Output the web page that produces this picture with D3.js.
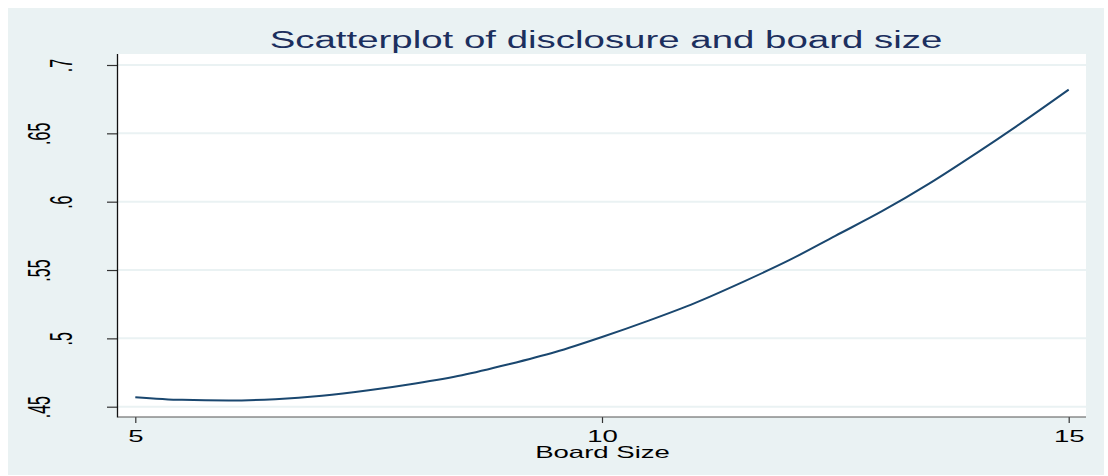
<!DOCTYPE html>
<html>
<head>
<meta charset="utf-8">
<script src="https://cdn.jsdelivr.net/npm/d3@7"></script>
<style>
  html, body { margin: 0; padding: 0; background: #ffffff; }
  svg { display: block; font-family: "Liberation Sans", Arial, sans-serif; }
</style>
</head>
<body>
<svg id="chart" width="1108" height="476"></svg>
<script>
// Fitted disclosure level by board size
const boardSize = [5, 5.5, 6, 6.5, 7, 7.5, 8, 8.5, 9, 9.5, 10, 10.5, 11, 11.5, 12, 12.5, 13, 13.5, 14, 14.5, 15];
const disclosure = [0.457, 0.455, 0.4545, 0.4555, 0.458, 0.462, 0.467, 0.473, 0.481, 0.490, 0.501,
                    0.513, 0.526, 0.541, 0.557, 0.575, 0.593, 0.613, 0.635, 0.658, 0.682];

const xTicks = [5, 10, 15];
const xTickLabels = ["5", "10", "15"];
const yTicks = [0.45, 0.5, 0.55, 0.6, 0.65, 0.7];
const yTickLabels = [".45", ".5", ".55", ".6", ".65", ".7"];

const titleText = "Scatterplot of disclosure and board size";
const xTitle = "Board Size";

const svg = d3.select("#chart");
const SX = 1.65;      // horizontal stretch of horizontal text
const SXR = 1.95;     // horizontal stretch of rotated text

// graph region
svg.append("rect").attr("x", 8).attr("y", 8).attr("width", 1096).attr("height", 467)
  .attr("fill", "#eaf2f3");

// plot region
const plot = { left: 118, right: 1086, top: 54, bottom: 417 };
svg.append("rect").attr("x", plot.left).attr("y", plot.top)
  .attr("width", plot.right - plot.left).attr("height", plot.bottom - plot.top)
  .attr("fill", "#ffffff");

const x = d3.scaleLinear().domain([5, 15]).range([135.3, 1068.7]);
const y = d3.scaleLinear().domain([0.45, 0.7]).range([406.7, 65]);

// grid lines
svg.append("g").selectAll("line").data(yTicks).join("line")
  .attr("x1", plot.left).attr("x2", plot.right)
  .attr("y1", d => y(d)).attr("y2", d => y(d))
  .attr("stroke", "#eaf2f3").attr("stroke-width", 2);

// fitted curve
const line = d3.line().x((d, i) => x(boardSize[i])).y(d => y(d)).curve(d3.curveMonotoneX);
svg.append("path").datum(disclosure)
  .attr("d", line)
  .attr("fill", "none")
  .attr("stroke", "#1a476f")
  .attr("stroke-width", 2)
  .attr("stroke-linejoin", "round");

// y axis
const yAxis = svg.append("g").attr("transform", `translate(${plot.left},0)`)
  .call(d3.axisLeft(y).tickValues(yTicks).tickSize(11).tickPadding(0)
    .tickFormat((d, i) => yTickLabels[i]));
yAxis.select(".domain").remove();
yAxis.append("line").attr("x1", -0.5).attr("x2", -0.5).attr("y1", plot.top).attr("y2", plot.bottom + 0.5)
  .attr("stroke", "#111").attr("stroke-width", 1.3);
yAxis.selectAll(".tick line").attr("stroke", "#333").attr("stroke-width", 1.2);
yAxis.selectAll(".tick text")
  .attr("x", null).attr("y", null).attr("dy", null)
  .attr("text-anchor", "middle")
  .attr("fill", "#000")
  .attr("font-size", 16)
  .attr("transform", (d, i) => {
    const off = yTickLabels[i].length > 2 ? -68 : -46;
    return `translate(${off},0) scale(${SXR},1) rotate(-90)`;
  });

// x axis
const xAxis = svg.append("g").attr("transform", `translate(0,${plot.bottom})`)
  .call(d3.axisBottom(x).tickValues(xTicks).tickSize(6).tickPadding(0)
    .tickFormat((d, i) => xTickLabels[i]));
xAxis.select(".domain").remove();
xAxis.append("line").attr("x1", plot.left).attr("x2", plot.right).attr("y1", 0).attr("y2", 0)
  .attr("stroke", "#555").attr("stroke-width", 1.2);
xAxis.selectAll(".tick line").attr("stroke", "#333").attr("stroke-width", 1.2);
xAxis.selectAll(".tick text")
  .attr("x", null).attr("y", null).attr("dy", null)
  .attr("text-anchor", "middle")
  .attr("fill", "#000")
  .attr("font-size", 16.7)
  .attr("transform", `translate(0,24.5) scale(${SX},1)`);

// axis title
svg.append("text")
  .attr("transform", `translate(602.5,458) scale(${SX},1)`)
  .attr("text-anchor", "middle")
  .attr("font-size", 16.7)
  .attr("fill", "#000")
  .text(xTitle);

// chart title
svg.append("text")
  .attr("transform", `translate(606,48.3) scale(${SX},1)`)
  .attr("text-anchor", "middle")
  .attr("font-size", 23.3)
  .attr("fill", "#1c2f5e")
  .text(titleText);
</script>
</body>
</html>
